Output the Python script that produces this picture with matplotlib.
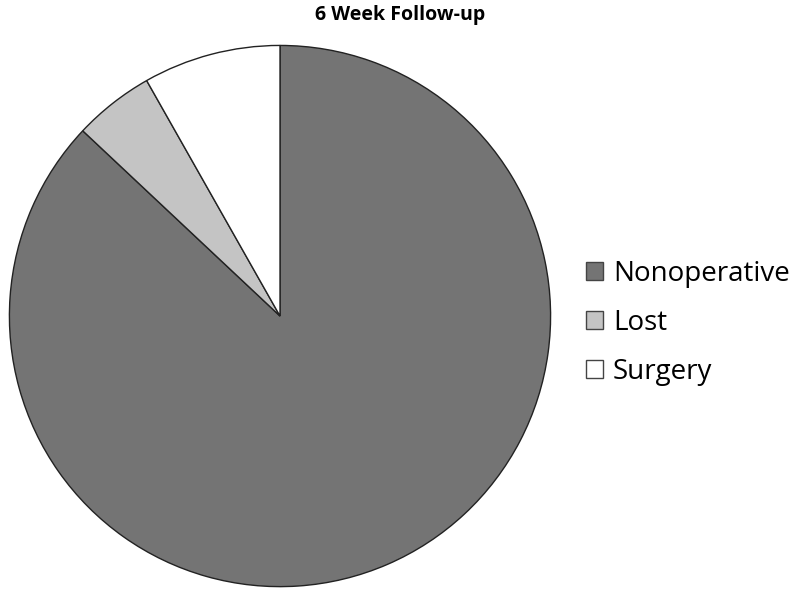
import matplotlib.pyplot as plt
from matplotlib.patches import Patch

labels = ['Nonoperative', 'Lost', 'Surgery']
values = [87.0, 4.8, 8.2]
colors = ['#747474', '#c4c4c4', '#ffffff']

fig = plt.figure(figsize=(8, 5.99), dpi=100)
plt.rcParams['font.family'] = ['Open Sans', 'DejaVu Sans']

ax = fig.add_axes([0.01, 0.0184, 0.68, 0.908])
ax.pie(values, colors=colors, startangle=90, counterclock=False, radius=1,
       wedgeprops=dict(edgecolor='#222222', linewidth=1.0))
ax.set_xlim(-1.005, 1.005)
ax.set_ylim(-1.005, 1.005)
ax.set_aspect('equal')
ax.axis('off')

fig.text(0.5, 0.975, '6 Week Follow-up', ha='center', va='center',
         fontsize=14, fontweight='bold')

handles = [Patch(facecolor=c, edgecolor='#444444', linewidth=1.0) for c in colors]
fig.legend(handles, labels, loc='center left', bbox_to_anchor=(0.733, 0.461),
           frameon=False, fontsize=20, handlelength=0.6, handleheight=0.6,
           handletextpad=0.35, labelspacing=0.75, borderpad=0, borderaxespad=0)

plt.savefig('out.png')
